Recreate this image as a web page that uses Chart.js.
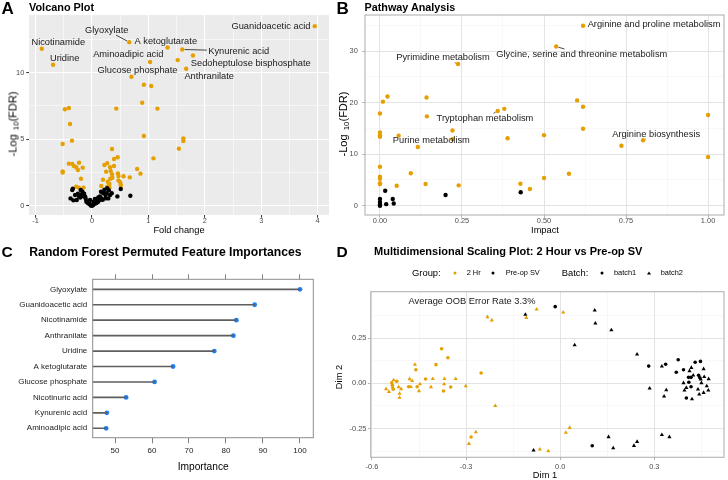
<!DOCTYPE html>
<html>
<head>
<meta charset="utf-8">
<script src="https://cdn.jsdelivr.net/npm/chart.js@4.4.1/dist/chart.umd.min.js"></script>
<style>
  body { margin: 0; background: #fff; font-family: "Liberation Sans", Arial, sans-serif; }
  #page { position: relative; width: 728px; height: 480px; overflow: hidden; }
  canvas { position: absolute; }
  .t { position: absolute; white-space: nowrap; line-height: 1; color: #000; }
  .l { transform: translate(0, -50%); }
  .c { transform: translate(-50%, -50%); }
  .v { transform: translate(-50%, -50%) rotate(-90deg); }
  .b { font-weight: bold; }
  sub { font-size: 0.72em; vertical-align: -0.3em; line-height: 0; margin-left: 1px; }
  .dot { position: absolute; width: 3px; height: 3px; border-radius: 50%; transform: translate(-50%, -50%); }
  .tri { position: absolute; width: 0; height: 0; border-left: 2px solid transparent; border-right: 2px solid transparent;
         border-bottom: 3.4px solid #000; transform: translate(-50%, -50%); }
</style>
</head>
<body>
<div id="page">
  <canvas id="volcano" width="335" height="240" style="left:0;top:0;width:335px;height:240px"></canvas>
  <canvas id="pathway" width="393" height="240" style="left:335px;top:0;width:393px;height:240px"></canvas>
  <canvas id="forest" width="330" height="240" style="left:0;top:240px;width:330px;height:240px"></canvas>
  <canvas id="mds" width="398" height="240" style="left:330px;top:240px;width:398px;height:240px"></canvas>

  <div class="t l b" style="left:1.5px;top:8px;font-size:17px">A</div>
  <div class="t l b" style="left:29px;top:6.6px;font-size:10.9px">Volcano Plot</div>
  <div class="t l b" style="left:336.5px;top:8px;font-size:17px">B</div>
  <div class="t l b" style="left:364.5px;top:6.6px;font-size:10.8px">Pathway Analysis</div>
  <div class="t l b" style="left:1.5px;top:251.7px;font-size:15.5px">C</div>
  <div class="t l b" style="left:29.3px;top:251.5px;font-size:12.2px">Random Forest Permuted Feature Importances</div>
  <div class="t l b" style="left:336.5px;top:251.7px;font-size:15.5px">D</div>
  <div class="t l b" style="left:374px;top:250.8px;font-size:11px">Multidimensional Scaling Plot: 2 Hour vs Pre-op SV</div>

  <div class="t c" style="left:179px;top:230.5px;font-size:9.3px">Fold change</div>
  <div class="t v" style="left:13.3px;top:124px;font-size:11px">-Log <sub>10</sub>(FDR)</div>
  <div class="t c" style="left:545px;top:231px;font-size:9.3px">Impact</div>
  <div class="t v" style="left:343px;top:124px;font-size:11px">-Log <sub>10</sub>(FDR)</div>
  <div class="t c" style="left:203.2px;top:467.3px;font-size:10.2px">Importance</div>
  <div class="t c" style="left:545px;top:476px;font-size:9.3px">Dim 1</div>
  <div class="t v" style="left:340px;top:376.7px;font-size:9.3px">Dim 2</div>
  <div class="t c" style="left:472px;top:302.3px;font-size:9.3px;color:#1a1a1a">Average OOB Error Rate 3.3%</div>

  <div class="t l" style="left:412px;top:273.3px;font-size:9.4px">Group:</div>
  <div class="dot" style="left:454.7px;top:273.3px;background:#E69F00"></div>
  <div class="t l" style="left:466.7px;top:273.3px;font-size:7.4px">2 Hr</div>
  <div class="dot" style="left:493.3px;top:273.3px;background:#000"></div>
  <div class="t l" style="left:505.7px;top:273.3px;font-size:7.4px">Pre-op SV</div>
  <div class="t l" style="left:561.7px;top:273.3px;font-size:9.4px">Batch:</div>
  <div class="dot" style="left:602.3px;top:273.3px;background:#000"></div>
  <div class="t l" style="left:614px;top:273.3px;font-size:7.4px">batch1</div>
  <div class="tri" style="left:649px;top:273.3px"></div>
  <div class="t l" style="left:660.7px;top:273.3px;font-size:7.4px">batch2</div>
</div>

<script>
// ---- A: volcano plot (labelled metabolites come first in the significant arrays)
const volcanoNames = ['Guanidoacetic acid', 'Glyoxylate', 'A ketoglutarate', 'Kynurenic acid', 'Sedoheptulose bisphosphate',
  'Nicotinamide', 'Uridine', 'Aminoadipic acid', 'Anthranilate', 'Glucose phosphate'];
const volcanoSigFC = [3.95, 0.66, 1.34, 1.60, 1.79, -0.89, -0.69, 1.03, 1.67, 0.70, 1.52, 0.92, 1.05, 0.89, 1.16, 0.43,
  -0.41, -0.48, -0.39, 0.92, 1.62, 1.62, -0.355, -0.52, 1.54, 0.355, 0.455, 0.39, 1.09, -0.41, -0.35, -0.23, -0.32,
  -0.28, -0.25, -0.165, -0.52, -0.52, -0.195, -0.28, -0.235, -0.15, 0.27, 0.22, 0.39, 0.32, 0.25, 0.33, 0.80, 0.86,
  0.195, 0.355, 0.325, 0.36, 0.46, 0.47, 0.56, 0.67, 0.47, 0.28, 0.31, 0.50, 0.51, 0.27, 0.51, 0.165, 0.31];
const volcanoSigFDR = [13.5, 12.3, 11.9, 11.75, 11.3, 11.8, 10.6, 10.8, 10.3, 9.7, 10.95, 9.1, 9.0, 7.74, 7.3, 7.3,
  7.35, 7.25, 6.14, 5.24, 5.05, 4.87, 4.89, 4.64, 4.29, 4.26, 3.64, 3.51, 3.56, 3.16, 3.14, 3.23, 2.98,
  2.89, 2.68, 2.86, 2.5, 2.58, 2.03, 1.43, 1.36, 1.36, 3.19, 3.06, 2.98, 2.89, 2.56, 2.61, 2.76, 2.41,
  1.96, 2.36, 2.03, 2.1, 2.43, 2.23, 2.21, 2.13, 1.9, 1.8, 1.63, 1.76, 1.58, 1.43, 1.48, 1.48, 1.35];
const volcanoNsFC = [-0.35, -0.34, -0.38, -0.30, -0.20, -0.17, -0.18, -0.27, -0.33, -0.21, -0.11, -0.10, -0.07, -0.04,
  0.0, 0.02, 0.05, 0.08, 0.11, 0.14, 0.17, 0.16, 0.22, 0.26, 0.24, 0.29, 0.27, 0.35, 0.45, 0.68, 0.20, 0.32, 0.14,
  0.11, 0.24, -0.035, -0.12, -0.23, -0.15, -0.05, 0.03, 0.06, -0.02, 0.01, 0.10, 0.19, -0.25, -0.14, 0.30, 0.51, 0.05];
const volcanoNsFDR = [1.18, 1.28, 0.55, 0.80, 1.18, 1.05, 0.85, 0.43, 0.40, 0.62, 0.50, 0.30, 0.18, 0.10,
  0.0, 0.05, 0.15, 0.20, 0.30, 0.43, 0.55, 1.05, 1.20, 0.93, 0.80, 0.55, 1.31, 0.93, 0.70, 0.75, 0.93, 0.80, 0.70,
  0.62, 0.55, 0.43, 0.68, 0.70, 0.70, 0.25, 0.30, 0.35, 0.02, 0.08, 0.45, 0.45, 0.90, 0.90, 1.15, 1.25, 0.50];
const volcanoXTicks = [-1, 0, 1, 2, 3, 4];
const volcanoXLabels = ['-1', '0', '1', '2', '3', '4'];
const volcanoXMinor = [-0.5, 0.5, 1.5, 2.5, 3.5];
const volcanoYTicks = [0, 5, 10];
const volcanoYLabels = ['0', '5', '10'];
const volcanoYMinor = [2.5, 7.5, 12.5];

// ---- B: pathway analysis (labelled pathways first)
const pathwayNames = ['Arginine and proline metabolism', 'Glycine, serine and threonine metabolism', 'Pyrimidine metabolism',
  'Tryptophan metabolism', 'Purine metabolism', 'Arginine biosynthesis'];
const pathwaySigImpact = [0.619, 0.537, 0.238, 0.359, 0.057, 0.802, 0.023, 0.009, 0.142, 0, 0.143, 0.601, 0.619, 1.0,
  0.379, 0.619, 0.221, 0, 0, 0, 0.221, 0.389, 0.50, 0.1155, 0.736, 1.0, 0, 0, 0, 0, 0, 0.094, 0.051, 0.139, 0.24,
  0.428, 0.457, 0.50, 0.576];
const pathwaySigFDR = [34.95, 30.9, 27.5, 18.4, 13.6, 12.7, 21.2, 20.2, 21.0, 17.9, 17.35, 20.45, 19.2, 17.6,
  18.8, 14.95, 14.6, 14.2, 13.7, 13.4, 12.9, 13.1, 13.7, 11.4, 11.65, 9.46, 7.57, 5.63, 5.24, 4.35, 4.21, 6.29, 3.88, 4.2, 3.95,
  4.27, 3.24, 5.38, 6.2];
const pathwayNsImpact = [0.016, 0, 0, 0, 0, 0.019, 0.039, 0.042, 0.20, 0.429];
const pathwayNsFDR = [2.9, 1.3, 0.7, 0.25, 0.0, 0.3, 1.3, 0.42, 2.08, 2.6];
const pathwayXTicks = [0, 0.25, 0.5, 0.75, 1];
const pathwayXLabels = ['0.00', '0.25', '0.50', '0.75', '1.00'];
const pathwayXMinor = [0.125, 0.375, 0.625, 0.875];
const pathwayYTicks = [0, 10, 20, 30];
const pathwayYLabels = ['0', '10', '20', '30'];
const pathwayYMinor = [5, 15, 25, 35];

// ---- C: random forest importances
const forestFeatures = ['Glyoxylate', 'Guanidoacetic acid', 'Nicotinamide', 'Anthranilate', 'Uridine', 'A ketoglutarate',
  'Glucose phosphate', 'Nicotinuric acid', 'Kynurenic acid', 'Aminoadipic acid'];
const forestImportance = [100, 87.75, 82.8, 82.0, 76.85, 65.7, 60.7, 53.0, 47.8, 47.6];
const forestTicks = [50, 60, 70, 80, 90, 100];

// ---- D: MDS plot, one pair of arrays per group x batch
const mdsHrB1X = [-0.378, -0.358, -0.396, -0.46, -0.483, -0.456, -0.429, -0.372, -0.349, -0.252, -0.284, -0.537, -0.535, -0.532, -0.521];
const mdsHrB1Y = [0.191, 0.141, 0.103, 0.075, -0.019, -0.019, 0.024, -0.042, -0.02, 0.057, -0.296, 0.003, -0.011, -0.033, 0.011];
const mdsHrB2X = [-0.232, -0.218, -0.108, -0.075, 0.0095, -0.463, -0.48, -0.472, -0.476, -0.447, -0.45, -0.406, -0.412, -0.369,
  -0.37, -0.333, -0.301, -0.207, -0.269, -0.291, -0.065, -0.038, 0.018, 0.030, -0.555, -0.546, -0.531, -0.534, -0.515, -0.507,
  -0.512, -0.512];
const mdsHrB2Y = [0.366, 0.348, 0.362, 0.408, 0.392, 0.103, 0.024, 0.014, -0.019, -0.004, -0.042, 0.025, -0.02, 0.025,
  -0.004, 0.025, -0.015, -0.124, -0.269, -0.333, -0.364, -0.374, -0.272, -0.245, -0.031, -0.046, 0.018, -0.022, -0.02, -0.031,
  -0.057, -0.079];
const mdsPreB1X = [-0.016, 0.282, 0.336, 0.376, 0.370, 0.393, 0.430, 0.447, 0.409, 0.417, 0.441, 0.445, 0.410, 0.417, 0.402, 0.102];
const mdsPreB1Y = [0.423, 0.095, 0.105, 0.130, 0.061, 0.075, 0.116, 0.121, 0.033, 0.033, 0.044, 0.031, 0.006, -0.019, -0.081, -0.344];
const mdsPreB2X = [-0.111, 0.110, 0.112, 0.163, 0.046, 0.245, 0.324, 0.285, 0.338, 0.331, 0.412, 0.418, 0.457, 0.424, 0.448,
  0.459, 0.473, 0.450, 0.393, 0.402, 0.396, 0.439, 0.467, 0.472, 0.457, 0.443, 0.420, 0.154, 0.169, 0.235, 0.245, 0.324,
  0.348, -0.085];
const mdsPreB2Y = [0.379, 0.403, 0.331, 0.294, 0.211, 0.160, 0.094, -0.028, -0.037, -0.072, 0.068, 0.086, 0.079, 0.044, 0.022,
  0.036, 0.024, 0.002, 0.002, -0.024, -0.039, -0.033, -0.015, -0.039, -0.052, -0.061, -0.087, -0.296, -0.357, -0.344, -0.322,
  -0.284, -0.296, -0.37];
const mdsXTicks = [-0.6, -0.3, 0, 0.3];
const mdsXLabels = ['-0.6', '-0.3', '0.0', '0.3'];
const mdsXMinor = [-0.45, -0.15, 0.15, 0.45];
const mdsYTicks = [-0.25, 0, 0.25];
const mdsYLabels = ['-0.25', '0.00', '0.25'];
const mdsYMinor = [-0.375, -0.125, 0.125, 0.375];

const ORANGE = '#E69F00';
const BLACK = '#000000';
const LABEL_FONT = "9.3px 'Liberation Sans', Arial, sans-serif";

// label placement (pixel offsets from the point, like ggrepel output)
const volcanoNudge = [[-43.8, 0], [-22.5, -12], [-1.8, -5.7], [56.5, 1.6], [57.8, 7.9],
  [16.5, -6.5], [11.6, -6.4], [-21.8, -7.8], [23, 8], [6, -6.7]];
const volcanoLeader = [false, true, false, true, false, false, false, false, false, false];
const pathwayNudge = [[71, -1.7], [25.6, 7.4], [-15.1, -6.4], [-12.8, 7.4], [32.7, 5], [13.1, -6.3]];
const pathwayLeader = [false, true, true, true, false, true];

Chart.defaults.font.family = "'Liberation Sans', Arial, sans-serif";
Chart.defaults.animation = false;
Chart.defaults.responsive = false;
Chart.defaults.devicePixelRatio = 1;
Chart.defaults.plugins.legend.display = false;
Chart.defaults.plugins.tooltip.enabled = false;
Chart.defaults.elements.point.borderWidth = 0;

const xy = (xs, ys) => xs.map((x, i) => ({ x, y: ys[i] }));

const panelFill = {
  id: 'panelFill',
  beforeDraw(chart, args, opts) {
    if (!opts.color) return;
    const { ctx, chartArea: a } = chart;
    ctx.save();
    ctx.fillStyle = opts.color;
    ctx.fillRect(a.left, a.top, a.width, a.height);
    ctx.restore();
  },
};
const panelBorder = {
  id: 'panelBorder',
  afterDraw(chart, args, opts) {
    if (!opts.color) return;
    const { ctx, chartArea: a } = chart;
    ctx.save();
    ctx.strokeStyle = opts.color;
    ctx.lineWidth = opts.width || 1;
    ctx.strokeRect(a.left, a.top, a.width, a.height);
    ctx.restore();
  },
};
Chart.register(panelFill, panelBorder);

function pointLabels(datasetIndex, names, nudge, leader) {
  return {
    id: 'pointLabels',
    afterDatasetsDraw(chart) {
      const ctx = chart.ctx;
      const pts = chart.getDatasetMeta(datasetIndex).data;
      ctx.save();
      ctx.font = LABEL_FONT;
      ctx.fillStyle = '#1A1A1A';
      ctx.strokeStyle = '#1A1A1A';
      ctx.lineWidth = 0.8;
      ctx.textAlign = 'center';
      ctx.textBaseline = 'middle';
      names.forEach((name, i) => {
        const p = pts[i];
        const cx = p.x + nudge[i][0], cy = p.y + nudge[i][1];
        if (leader[i]) {
          // segment from the dot to the edge of the label box
          const hw = ctx.measureText(name).width / 2 + 1.5, hh = 5;
          const dx = p.x - cx, dy = p.y - cy;
          const s = Math.min(hw / Math.abs(dx), hh / Math.abs(dy));
          const r = 2.5 / Math.hypot(dx, dy);
          ctx.beginPath();
          ctx.moveTo(p.x - dx * r, p.y - dy * r);
          ctx.lineTo(cx + dx * s, cy + dy * s);
          ctx.stroke();
        }
        ctx.fillText(name, cx, cy);
      });
      ctx.restore();
    },
  };
}

// ggplot-like axis: major ticks labelled, minor ticks only as thin grid lines
function ggScale(o) {
  const ticks = o.major.concat(o.minor).sort((a, b) => a - b);
  const majorAt = v => o.major.findIndex(m => Math.abs(m - v) < 1e-9);
  const isMajor = c => (c.tick ? majorAt(c.tick.value) >= 0 : true);
  return {
    type: 'linear',
    position: o.position,
    min: o.min,
    max: o.max,
    afterBuildTicks: s => { s.ticks = ticks.map(value => ({ value })); },
    afterFit: s => { if (o.position === 'left') s.width = o.size; else s.height = o.size; },
    border: { display: false },
    grid: {
      color: c => (isMajor(c) ? o.grid : o.minorGrid),
      lineWidth: c => (isMajor(c) ? o.gridWidth : o.gridWidth / 2),
      tickColor: c => (isMajor(c) ? o.tickColor : 'rgba(0,0,0,0)'),
      tickLength: 2.75,
      tickWidth: 1,
    },
    ticks: {
      autoSkip: false,
      maxRotation: 0,
      padding: o.pad,
      color: '#4D4D4D',
      font: { size: 7.4 },
      callback: v => { const k = majorAt(v); return k < 0 ? '' : o.labels[k]; },
    },
  };
}

// A
new Chart(document.getElementById('volcano'), {
  type: 'scatter',
  data: {
    datasets: [
      { data: xy(volcanoNsFC, volcanoNsFDR), backgroundColor: BLACK, pointRadius: 2.2 },
      { data: xy(volcanoSigFC, volcanoSigFDR), backgroundColor: ORANGE, pointRadius: 2.2 },
    ],
  },
  options: {
    layout: { padding: { top: 15, right: 6, bottom: 0, left: 0 } },
    scales: {
      x: ggScale({ position: 'bottom', min: -1.117, max: 4.202, major: volcanoXTicks, minor: volcanoXMinor, labels: volcanoXLabels,
        size: 25, pad: -1, grid: '#FFFFFF', minorGrid: '#FFFFFF', gridWidth: 1.1, tickColor: '#333333' }),
      y: ggScale({ position: 'left', min: -0.70, max: 14.34, major: volcanoYTicks, minor: volcanoYMinor, labels: volcanoYLabels,
        size: 29, pad: 2, grid: '#FFFFFF', minorGrid: '#FFFFFF', gridWidth: 1.1, tickColor: '#333333' }),
    },
    plugins: { panelFill: { color: '#EBEBEB' } },
  },
  plugins: [pointLabels(1, volcanoNames, volcanoNudge, volcanoLeader)],
});

// B
new Chart(document.getElementById('pathway'), {
  type: 'scatter',
  data: {
    datasets: [
      { data: xy(pathwayNsImpact, pathwayNsFDR), backgroundColor: BLACK, pointRadius: 2.2 },
      { data: xy(pathwaySigImpact, pathwaySigFDR), backgroundColor: ORANGE, pointRadius: 2.2 },
    ],
  },
  options: {
    layout: { padding: { top: 15, right: 3, bottom: 0, left: 0 } },
    scales: {
      x: ggScale({ position: 'bottom', min: -0.0456, max: 1.0486, major: pathwayXTicks, minor: pathwayXMinor, labels: pathwayXLabels,
        size: 25, pad: -1, grid: '#E3E3E3', minorGrid: '#F0F0F0', gridWidth: 1, tickColor: '#B3B3B3' }),
      y: ggScale({ position: 'left', min: -1.81, max: 37.03, major: pathwayYTicks, minor: pathwayYMinor, labels: pathwayYLabels,
        size: 30, pad: 4.5, grid: '#E3E3E3', minorGrid: '#F0F0F0', gridWidth: 1, tickColor: '#B3B3B3' }),
    },
    plugins: { panelBorder: { color: '#B3B3B3', width: 1.1 } },
  },
  plugins: [pointLabels(1, pathwayNames, pathwayNudge, pathwayLeader)],
});

// C
const forestPts = xy(forestImportance, forestFeatures.map((f, i) => i));
new Chart(document.getElementById('forest'), {
  type: 'bar',
  data: {
    datasets: [
      { type: 'bar', indexAxis: 'y', data: forestPts, backgroundColor: '#5E5E5E', barThickness: 1, borderWidth: 0,
        xAxisID: 'x', yAxisID: 'y' },
      { type: 'scatter', data: forestPts, backgroundColor: '#1A80FF', pointRadius: 2.4, xAxisID: 'x', yAxisID: 'y' },
    ],
  },
  options: {
    layout: { padding: { top: 34.3, right: 16.7, bottom: 0, left: 0 } },
    scales: {
      x: {
        type: 'linear', position: 'bottom', min: 43.97, max: 103.6, beginAtZero: false, offset: false,
        afterBuildTicks: s => { s.ticks = forestTicks.map(value => ({ value })); },
        afterFit: s => { s.height = 42.3; },
        border: { display: false },
        grid: { offset: false, drawOnChartArea: false, tickLength: 5.6, tickColor: '#808080', tickWidth: 1 },
        ticks: { autoSkip: false, maxRotation: 0, padding: 2.6, color: '#222222', font: { size: 8 } },
      },
      xTop: {
        type: 'linear', position: 'top', min: 43.97, max: 103.6, offset: false,
        afterBuildTicks: s => { s.ticks = forestTicks.map(value => ({ value })); },
        afterFit: s => { s.height = 5; },
        border: { display: false },
        grid: { offset: false, drawOnChartArea: false, tickLength: 5, tickColor: '#808080', tickWidth: 1 },
        ticks: { display: false },
      },
      y: {
        type: 'linear', position: 'left', reverse: true, min: -0.648, max: 9.61, offset: false,
        afterBuildTicks: s => { s.ticks = forestFeatures.map((f, i) => ({ value: i })); },
        afterFit: s => { s.width = 92.7; },
        border: { display: false },
        grid: { display: false, drawTicks: false, offset: false },
        ticks: { autoSkip: false, padding: 5.4, color: '#222222', font: { size: 8 }, callback: v => forestFeatures[v] },
      },
    },
    plugins: { panelBorder: { color: '#8C8C8C', width: 1 } },
  },
});

// D
new Chart(document.getElementById('mds'), {
  type: 'scatter',
  data: {
    datasets: [
      { data: xy(mdsHrB1X, mdsHrB1Y), backgroundColor: ORANGE, pointStyle: 'circle', pointRadius: 1.8 },
      { data: xy(mdsHrB2X, mdsHrB2Y), backgroundColor: ORANGE, pointStyle: 'triangle', pointRadius: 2.4 },
      { data: xy(mdsPreB1X, mdsPreB1Y), backgroundColor: BLACK, pointStyle: 'circle', pointRadius: 1.8 },
      { data: xy(mdsPreB2X, mdsPreB2Y), backgroundColor: BLACK, pointStyle: 'triangle', pointRadius: 2.4 },
    ],
  },
  options: {
    layout: { padding: { top: 51.7, right: 3, bottom: 0, left: 0 } },
    scales: {
      x: ggScale({ position: 'bottom', min: -0.604, max: 0.522, major: mdsXTicks, minor: mdsXMinor, labels: mdsXLabels,
        size: 22.7, pad: 2.2, grid: '#E3E3E3', minorGrid: '#F0F0F0', gridWidth: 1, tickColor: '#B3B3B3' }),
      y: ggScale({ position: 'left', min: -0.408, max: 0.5055, major: mdsYTicks, minor: mdsYMinor, labels: mdsYLabels,
        size: 40.7, pad: 1.5, grid: '#E3E3E3', minorGrid: '#F0F0F0', gridWidth: 1, tickColor: '#B3B3B3' }),
    },
    plugins: { panelBorder: { color: '#B3B3B3', width: 1.1 } },
  },
});
</script>
</body>
</html>
